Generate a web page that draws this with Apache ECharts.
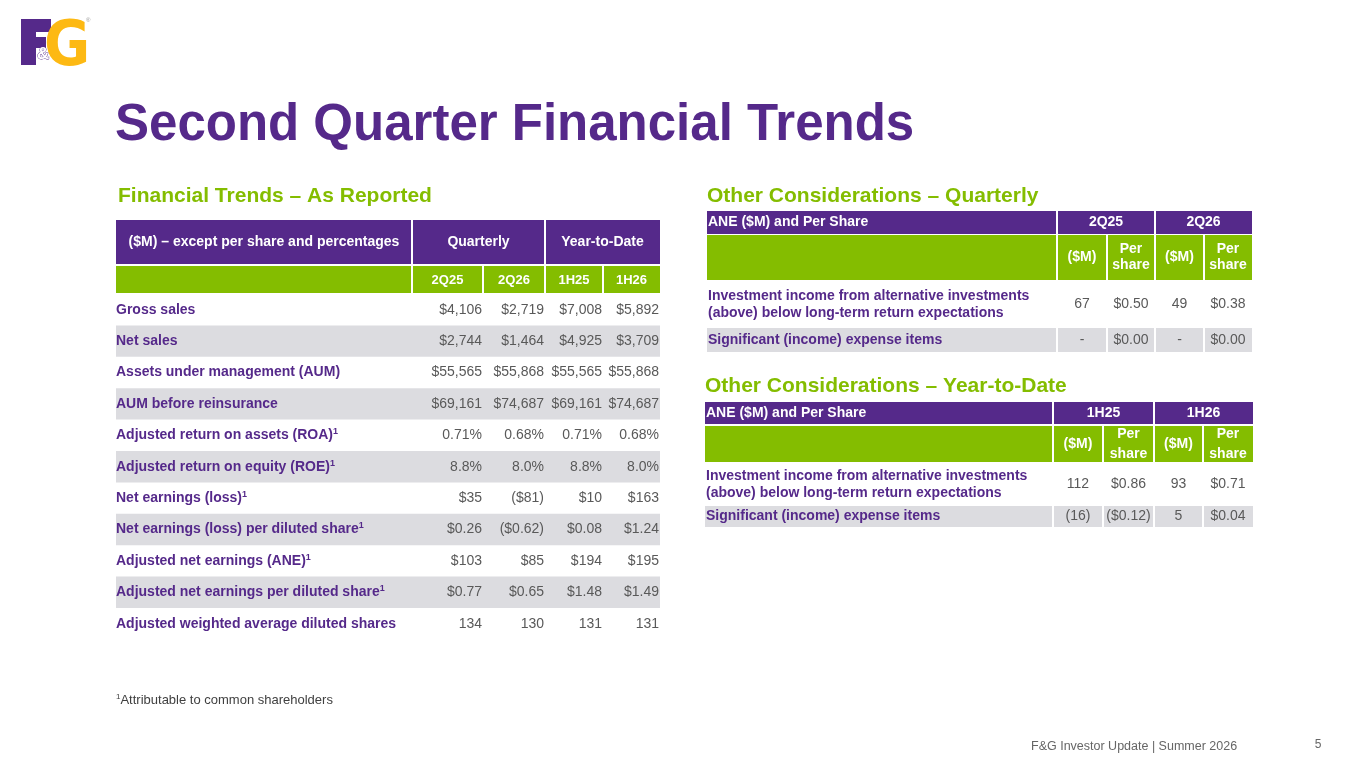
<!DOCTYPE html>
<html lang="en">
<head>
<meta charset="UTF-8">
<script src="https://cdn.jsdelivr.net/npm/echarts@6.0.0/dist/echarts.min.js"></script>
<style>
    html, body {margin: 0; padding: 0; background: #fff;}
    #main {width: 1365px; height: 768px;}
</style>
</head>
<body>
<div id="main"></div>
<script>
    // ---- Financial Trends – As Reported ----
    var groups = ['Quarterly', 'Year-to-Date'];
    var periods = ['2Q25', '2Q26', '1H25', '1H26'];
    var metrics = [
        'Gross sales',
        'Net sales',
        'Assets under management (AUM)',
        'AUM before reinsurance',
        'Adjusted return on assets (ROA)',
        'Adjusted return on equity (ROE)',
        'Net earnings (loss)',
        'Net earnings (loss) per diluted share',
        'Adjusted net earnings (ANE)',
        'Adjusted net earnings per diluted share',
        'Adjusted weighted average diluted shares'
    ];
    var footnoted = [0, 0, 0, 0, 1, 1, 1, 1, 1, 1, 0];
    var val2Q25 = ['$4,106', '$2,744', '$55,565', '$69,161', '0.71%', '8.8%', '$35', '$0.26', '$103', '$0.77', '134'];
    var val2Q26 = ['$2,719', '$1,464', '$55,868', '$74,687', '0.68%', '8.0%', '($81)', '($0.62)', '$85', '$0.65', '130'];
    var val1H25 = ['$7,008', '$4,925', '$55,565', '$69,161', '0.71%', '8.8%', '$10', '$0.08', '$194', '$1.48', '131'];
    var val1H26 = ['$5,892', '$3,709', '$55,868', '$74,687', '0.68%', '8.0%', '$163', '$1.24', '$195', '$1.49', '131'];

    // ---- Other Considerations ----
    var otherItems = [
        'Investment income from alternative investments\n(above) below long-term return expectations',
        'Significant (income) expense items'
    ];
    var subCols = ['($M)', 'Per\nshare', '($M)', 'Per\nshare'];
    var qPeriods = ['2Q25', '2Q26'];
    var qAmt25 = ['67', '-'];
    var qPer25 = ['$0.50', '$0.00'];
    var qAmt26 = ['49', '-'];
    var qPer26 = ['$0.38', '$0.00'];
    var ytdPeriods = ['1H25', '1H26'];
    var ytdAmt25 = ['112', '(16)'];
    var ytdPer25 = ['$0.86', '($0.12)'];
    var ytdAmt26 = ['93', '5'];
    var ytdPer26 = ['$0.71', '$0.04'];

    var PURPLE = '#55298a';
    var GREEN = '#84bd00';
    var GOLD = '#fdb913';
    var GRAY_ROW = '#dcdce0';
    var VAL = '#595959';
    var FONT = "'Liberation Sans', Arial, sans-serif";

    var els = [];

    function rect(x, y, w, h, fill) {
        els.push({type: 'rect', silent: true, shape: {x: x, y: y, width: w, height: h}, style: {fill: fill}});
    }
    function vline(x, y1, y2) {
        els.push({type: 'line', silent: true, shape: {x1: x, y1: y1, x2: x, y2: y2}, style: {stroke: '#fff', lineWidth: 2}});
    }
    function text(str, x, y, size, weight, fill, align, lh) {
        els.push({type: 'text', silent: true, x: x, y: y, style: {
            text: str, font: weight + ' ' + size + 'px ' + FONT, fill: fill,
            align: align || 'left', verticalAlign: 'middle', lineHeight: lh || size + 2
        }});
    }
    // label with a superscript "1"
    function supText(str, x, y, size, fill) {
        els.push({type: 'text', silent: true, x: x, y: y, style: {
            text: '{m|' + str + '}{s|1}', align: 'left', verticalAlign: 'middle',
            rich: {
                m: {font: 'bold ' + size + 'px ' + FONT, fill: fill, lineHeight: 16},
                s: {font: 'bold 9px ' + FONT, fill: fill, lineHeight: 16, verticalAlign: 'top'}
            }
        }});
    }

    // logo: block F, gold G, small ampersand
    rect(21, 19, 15, 46, PURPLE);
    rect(21, 19, 30, 13, PURPLE);
    rect(21, 37, 25, 11, PURPLE);
    els.push({type: 'text', silent: true, x: 44, y: 49, scaleX: 0.88, scaleY: 0.96, style: {
        text: 'G', font: "bold 64px 'DejaVu Sans', sans-serif", fill: GOLD, verticalAlign: 'middle'}});
    els.push({type: 'text', silent: true, x: 37, y: 54, style: {
        text: '&', font: 'bold 17px ' + FONT, fill: '#fff', stroke: PURPLE, lineWidth: 0.8, verticalAlign: 'middle'}});
    text('®', 86, 20, 6, 'normal', '#999');

    // titles
    text('Second Quarter Financial Trends', 115, 126, 51, 'bold', PURPLE);
    text('Financial Trends – As Reported', 118, 196, 21, 'bold', GREEN);

    // main table
    var cx = [116, 412, 483, 545, 603, 660];
    rect(116, 220, 544, 44, PURPLE);
    rect(116, 266, 544, 27, GREEN);
    vline(412, 220, 293);
    vline(545, 220, 293);
    vline(483, 266, 293);
    vline(603, 266, 293);
    text('($M) – except per share and percentages', (cx[0] + cx[1]) / 2, 242, 14, 'bold', '#fff', 'center');
    groups.forEach(function (g, i) {
        text(g, (cx[1 + 2 * i] + cx[3 + 2 * i]) / 2, 242, 14, 'bold', '#fff', 'center');
    });
    periods.forEach(function (p, i) {
        text(p, (cx[i + 1] + cx[i + 2]) / 2, 280, 13, 'bold', '#fff', 'center');
    });
    var cols = [val2Q25, val2Q26, val1H25, val1H26];
    var rowTop = 294, rowH = 31.4;
    metrics.forEach(function (m, r) {
        var y = rowTop + r * rowH;
        if (r % 2 === 1) rect(116, y, 544, rowH, GRAY_ROW);
        var cy = y + rowH / 2;
        if (footnoted[r]) supText(m, 116, cy, 14, PURPLE);
        else text(m, 116, cy, 14, 'bold', PURPLE);
        cols.forEach(function (col, c) {
            text(col[r], cx[c + 2] - 1, cy, 14, 'normal', VAL, 'right');
        });
    });

    // other considerations tables
    function otherTable(title, L, per, amt25, per25, amt26, per26) {
        text(title, L.x[0], L.titleY, 21, 'bold', GREEN);
        var x = L.x, right = x[5], w = right - x[0];
        rect(x[0], L.head[0], w, L.head[1], PURPLE);
        rect(x[0], L.sub[0], w, L.sub[1], GREEN);
        rect(x[0], L.r2[0], w, L.r2[1], GRAY_ROW);
        vline(x[1], L.head[0], L.r2[0] + L.r2[1]);
        vline(x[3], L.head[0], L.head[0] + L.head[1]);
        [1, 2, 3, 4].forEach(function (k) {
            vline(x[k], L.sub[0], L.sub[0] + L.sub[1]);
            vline(x[k], L.r2[0], L.r2[0] + L.r2[1]);
        });
        var hy = L.head[0] + L.head[1] / 2;
        text('ANE ($M) and Per Share', x[0] + 1, hy, 14, 'bold', '#fff');
        per.forEach(function (p, i) {
            text(p, (x[1 + 2 * i] + x[3 + 2 * i]) / 2, hy, 14, 'bold', '#fff', 'center');
        });
        var sy = L.sub[0] + L.sub[1] / 2;
        subCols.forEach(function (s, i) {
            text(s, (x[i + 1] + x[i + 2]) / 2, sy, 14, 'bold', '#fff', 'center', L.subLh);
        });
        var rows = [L.r1, L.r2];
        otherItems.forEach(function (item, r) {
            var ry = rows[r][0] + rows[r][1] / 2;
            text(item, x[0] + 1, ry, 14, 'bold', PURPLE, 'left', 17);
            [amt25, per25, amt26, per26].forEach(function (col, c) {
                text(col[r], (x[c + 1] + x[c + 2]) / 2, ry, 14, 'normal', VAL, 'center');
            });
        });
    }

    otherTable('Other Considerations – Quarterly', {
        x: [707, 1057, 1107, 1155, 1204, 1252], titleY: 196,
        head: [211, 23], sub: [235, 45], r1: [282, 45], r2: [328, 24], subLh: 16
    }, qPeriods, qAmt25, qPer25, qAmt26, qPer26);

    otherTable('Other Considerations – Year-to-Date', {
        x: [705, 1053, 1103, 1154, 1203, 1253], titleY: 386,
        head: [402, 22], sub: [426, 36], r1: [464, 41], r2: [506, 21], subLh: 20
    }, ytdPeriods, ytdAmt25, ytdPer25, ytdAmt26, ytdPer26);

    // footnote & footer
    els.push({type: 'text', silent: true, x: 116, y: 700, style: {
        text: '{s|1}{m|Attributable to common shareholders}', verticalAlign: 'middle',
        rich: {
            m: {font: '13px ' + FONT, fill: '#404040', lineHeight: 15},
            s: {font: '8px ' + FONT, fill: '#404040', lineHeight: 15, verticalAlign: 'top'}
        }
    }});
    text('F&G Investor Update | Summer 2026', 1031, 747, 12.5, 'normal', '#666');
    text('5', 1318, 745, 12, 'normal', '#666', 'center');

    var myChart = echarts.init(document.getElementById('main'));
    myChart.setOption({
        backgroundColor: '#fff',
        animation: false,
        graphic: {elements: els}
    });
</script>
</body>
</html>
